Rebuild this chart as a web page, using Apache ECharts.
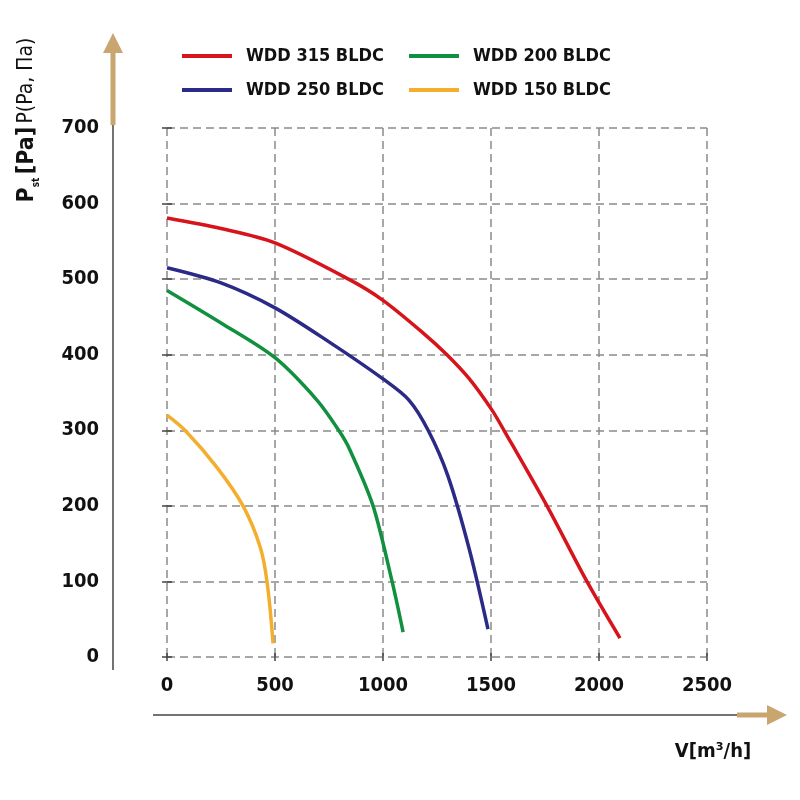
<!DOCTYPE html>
<html>
<head>
<meta charset="utf-8">
<script src="https://cdn.jsdelivr.net/npm/echarts@6/dist/echarts.min.js"></script>
<style>
  html, body { margin: 0; padding: 0; background: #fff; }
  #chart { width: 800px; height: 800px; }
</style>
</head>
<body>
<div id="chart"></div>
<script>
// 风量 V [m3/h] / 静压 P [Pa]
const v315 = [0, 250, 500, 847, 1000, 1185, 1296, 1400, 1504, 1560, 1759, 1944, 2097];
const p315 = [581, 567, 548, 499, 472, 429, 400, 368, 327, 300, 200, 100, 25];

const v250 = [0, 250, 500, 750, 1000, 1120, 1209, 1300, 1400, 1486];
const p250 = [515, 495, 462, 417, 368, 340, 300, 240, 142, 37];

const v200 = [0, 250, 500, 694, 795, 847, 954, 1042, 1093];
const p200 = [485, 442, 396, 340, 300, 274, 200, 100, 33];

const v150 = [0, 83, 231, 352, 431, 463, 491];
const p150 = [320, 300, 251, 200, 146, 100, 18];

const names = ["WDD 315 BLDC", "WDD 250 BLDC", "WDD 200 BLDC", "WDD 150 BLDC"];
const colors = ["#d7141b", "#2b2a86", "#11913f", "#f4ae2d"];
const xTicks = [0, 500, 1000, 1500, 2000, 2500];

const FONT = '"DejaVu Sans Condensed", "Liberation Sans Narrow", sans-serif';
const AXIS_COLOR = "#444";
const TAN = "#c9a56f";

function pairs(xs, ys) {
  return xs.map((x, i) => [x, ys[i]]);
}

const chart = echarts.init(document.getElementById("chart"));

const legendText = {
  fontFamily: FONT,
  fontWeight: "bold",
  fontSize: 18,
  lineHeight: 22,
  color: "#111",
  padding: [0, 0, 0, 9],
};

function legendAt(left, data) {
  return {
    data: data,
    orient: "vertical",
    left: left,
    top: 45,
    padding: 0,
    icon: "rect",
    itemWidth: 50,
    itemHeight: 4,
    itemGap: 12,
    textStyle: legendText,
  };
}

const option = {
  animation: false,
  grid: { left: 167, right: 93, top: 128, bottom: 143 },
  legend: [legendAt(182, [names[0], names[1]]), legendAt(409, [names[2], names[3]])],
  xAxis: [
    {
      type: "value",
      min: xTicks[0],
      max: xTicks[xTicks.length - 1],
      interval: 500,
      position: "bottom",
      offset: 58,
      axisLine: { show: false },
      axisTick: { show: true, length: 4, lineStyle: { color: AXIS_COLOR, width: 1.5 } },
      axisLabel: {
        inside: true,
        margin: 19,
        formatter: (v) => String(v),
        fontFamily: FONT,
        fontWeight: "bold",
        fontSize: 20,
        color: "#111",
      },
      splitLine: {
        show: true,
        lineStyle: { color: "#8a8a8a", width: 1.5, type: [8, 5] },
      },
    },
    {
      type: "value",
      min: xTicks[0],
      max: xTicks[xTicks.length - 1],
      interval: 500,
      position: "bottom",
      offset: 58,
      axisLine: { show: false },
      axisTick: { show: true, inside: true, length: 4, lineStyle: { color: AXIS_COLOR, width: 1.5 } },
      axisLabel: { show: false },
      splitLine: { show: false },
    },
  ],
  yAxis: [
    {
      type: "value",
      min: 0,
      max: 700,
      interval: 100,
      position: "left",
      offset: 54,
      axisLine: { show: false },
      axisTick: { show: true, length: 5, lineStyle: { color: AXIS_COLOR, width: 1.5 } },
      axisLabel: {
        margin: 14,
        fontFamily: FONT,
        fontWeight: "bold",
        fontSize: 20,
        color: "#111",
      },
      splitLine: {
        show: true,
        lineStyle: { color: "#8a8a8a", width: 1.5, type: [8, 5] },
      },
    },
    {
      type: "value",
      min: 0,
      max: 700,
      interval: 100,
      position: "left",
      offset: 54,
      axisLine: { show: false },
      axisTick: { show: true, inside: true, length: 5, lineStyle: { color: AXIS_COLOR, width: 1.5 } },
      axisLabel: { show: false },
      splitLine: { show: false },
    },
  ],
  series: [
    [v315, p315],
    [v250, p250],
    [v200, p200],
    [v150, p150],
  ].map((d, i) => ({
    name: names[i],
    type: "line",
    smooth: 0.3,
    showSymbol: false,
    data: pairs(d[0], d[1]),
    itemStyle: { color: colors[i] },
    lineStyle: { color: colors[i], width: 3.5 },
  })),
};

chart.setOption(option);

// 坐标轴箭头 (装饰)
const ax = chart.convertToPixel({ yAxisIndex: 0 }, 0);
const x0 = chart.convertToPixel({ xAxisIndex: 0 }, 0);
const x1 = chart.convertToPixel({ xAxisIndex: 0 }, 2500);
const yTop = chart.convertToPixel({ yAxisIndex: 0 }, 700);
const yAxisX = x0 - 54;
const xAxisY = ax + 58;

chart.setOption({
  graphic: [
    // y 轴
    { type: "line", shape: { x1: yAxisX, y1: ax + 13, x2: yAxisX, y2: yTop - 3 }, style: { stroke: AXIS_COLOR, lineWidth: 1.5 } },
    { type: "line", shape: { x1: yAxisX, y1: yTop - 3, x2: yAxisX, y2: 52 }, style: { stroke: TAN, lineWidth: 5 } },
    { type: "polygon", shape: { points: [[yAxisX - 10, 53], [yAxisX, 33], [yAxisX + 10, 53]] }, style: { fill: TAN } },
    // x 轴
    { type: "line", shape: { x1: x0 - 14, y1: xAxisY, x2: x1 + 30, y2: xAxisY }, style: { stroke: AXIS_COLOR, lineWidth: 1.5 } },
    { type: "line", shape: { x1: x1 + 30, y1: xAxisY, x2: x1 + 61, y2: xAxisY }, style: { stroke: TAN, lineWidth: 5 } },
    { type: "polygon", shape: { points: [[x1 + 60, xAxisY - 10], [x1 + 80, xAxisY], [x1 + 60, xAxisY + 10]] }, style: { fill: TAN } },
    // 轴名称
    {
      type: "text",
      x: 27,
      y: 120,
      rotation: Math.PI / 2,
      style: {
        text: "{b|P}{s|st} {b|[Pa]} {r|P(Pa, Па)}",
        align: "center",
        verticalAlign: "middle",
        rich: {
          b: { fontFamily: FONT, fontWeight: "bold", fontSize: 23, lineHeight: 28, fill: "#111" },
          s: { fontFamily: FONT, fontWeight: "bold", fontSize: 10, lineHeight: 10, verticalAlign: "bottom", fill: "#111" },
          r: { fontFamily: FONT, fontSize: 21, lineHeight: 28, fill: "#111" },
        },
      },
    },
    {
      type: "text",
      x: 713,
      y: 752,
      style: {
        text: "V[m³/h]",
        align: "center",
        verticalAlign: "middle",
        fontFamily: FONT,
        fontWeight: "bold",
        fontSize: 20,
        fill: "#111",
      },
    },
  ],
});

window.addEventListener("resize", () => chart.resize());
</script>
</body>
</html>
